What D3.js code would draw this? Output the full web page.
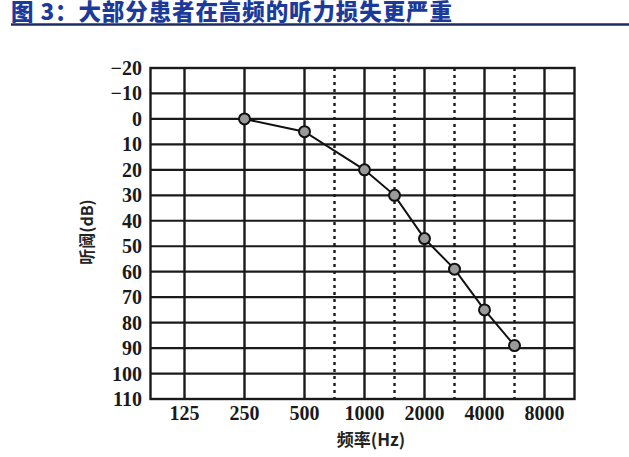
<!DOCTYPE html>
<html><head><meta charset="utf-8">
<script src="https://cdn.jsdelivr.net/npm/d3@7"></script>
<style>body{margin:0;background:#fff;} svg{display:block;}</style>
</head><body>
<script>
const title = "图 3：大部分患者在高频的听力损失更严重";
const mainFreqs = [125, 250, 500, 1000, 2000, 4000, 8000];
const midFreqs = [750, 1500, 3000, 6000];
const yTicks = [-20, -10, 0, 10, 20, 30, 40, 50, 60, 70, 80, 90, 100, 110];
const freqs = [250, 500, 1000, 1500, 2000, 3000, 4000, 6000];
const levels = [0, 5, 20, 30, 47, 59, 75, 89];

const W = 629, H = 457;
const svg = d3.select("body").append("svg").attr("width", W).attr("height", H);

svg.append("text").attr("x", 11).attr("y", 20)
  .attr("font-family", "Noto Sans CJK SC").attr("font-weight", 900)
  .attr("font-size", 22.5).attr("fill", "#1c3a9a").attr("textLength", 441)
  .attr("lengthAdjust", "spacing").text(title);
svg.append("line").attr("x1", 11).attr("x2", 629).attr("y1", 24.5).attr("y2", 24.5)
  .attr("stroke", "#1b2d63").attr("stroke-width", 2.5);

const step = 60, x0 = 184.5;
const x = d3.scaleLinear().domain(mainFreqs).range(mainFreqs.map((d, i) => x0 + i * step));
const y = d3.scaleLinear().domain([-20, 110]).range([68, 399]);
const fLeft = x(125) - 34, fRight = x(8000) + 30;
const fTop = y(-20), fBottom = y(110);

const g = svg.append("g");
g.selectAll(".h").data(yTicks).join("line")
  .attr("x1", fLeft).attr("x2", fRight).attr("y1", d => y(d)).attr("y2", d => y(d))
  .attr("stroke", "#1a1a1a").attr("stroke-width", 2.2);
g.selectAll(".v").data(mainFreqs).join("line")
  .attr("x1", d => x(d)).attr("x2", d => x(d)).attr("y1", fTop).attr("y2", fBottom)
  .attr("stroke", "#1a1a1a").attr("stroke-width", 2.4);
g.selectAll(".m").data(midFreqs).join("line")
  .attr("x1", d => x(d)).attr("x2", d => x(d)).attr("y1", fTop).attr("y2", fBottom)
  .attr("stroke", "#1a1a1a").attr("stroke-width", 2.4).attr("stroke-dasharray", "3,4");
g.append("rect").attr("x", fLeft).attr("y", fTop).attr("width", fRight - fLeft).attr("height", fBottom - fTop)
  .attr("fill", "none").attr("stroke", "#1a1a1a").attr("stroke-width", 2.4);

const fmt = d => (d < 0 ? "\u2212" + Math.abs(d) : String(d));
svg.selectAll(".yl").data(yTicks).join("text")
  .attr("x", 142).attr("y", d => y(d)).attr("dy", "0.35em").attr("text-anchor", "end")
  .attr("font-family", "Liberation Serif").attr("font-weight", "bold").attr("font-size", 20)
  .attr("fill", "#1a1a1a").text(fmt);
svg.selectAll(".xl").data(mainFreqs).join("text")
  .attr("x", d => x(d)).attr("y", 413).attr("dy", "0.35em").attr("text-anchor", "middle")
  .attr("font-family", "Liberation Serif").attr("font-weight", "bold").attr("font-size", 20)
  .attr("fill", "#1a1a1a").text(d => d);

svg.append("text").attr("transform", "translate(93,232) rotate(-90)")
  .attr("text-anchor", "middle").attr("font-family", "Noto Sans CJK SC").attr("font-weight", "bold")
  .attr("font-size", 16).attr("fill", "#222").text("听阈(dB)");
svg.append("text").attr("x", 371).attr("y", 446).attr("text-anchor", "middle")
  .attr("font-family", "Noto Sans CJK SC").attr("font-weight", "bold")
  .attr("font-size", 17).attr("fill", "#222").text("频率(Hz)");

const pts = freqs.map((f, i) => [f, levels[i]]);
svg.append("path").datum(pts)
  .attr("d", d3.line().x(d => x(d[0])).y(d => y(d[1])))
  .attr("fill", "none").attr("stroke", "#111").attr("stroke-width", 2);
svg.selectAll(".pt").data(pts).join("circle")
  .attr("cx", d => x(d[0])).attr("cy", d => y(d[1])).attr("r", 5.5)
  .attr("fill", "#9a9a9a").attr("stroke", "#111").attr("stroke-width", 2);
</script>
</body></html>
